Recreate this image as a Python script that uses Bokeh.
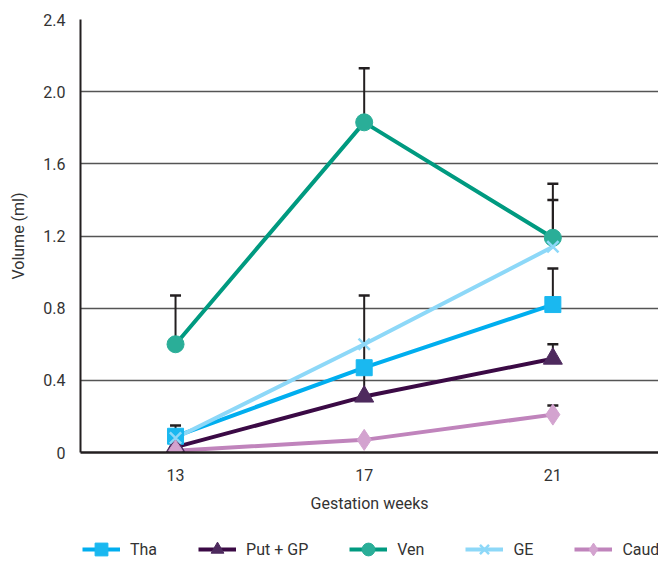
from bokeh.plotting import figure
from bokeh.layouts import column
from bokeh.models import Legend, LegendItem, Whisker, ColumnDataSource, TeeHead, FixedTicker, Range1d
from bokeh.embed import file_html
from bokeh.resources import INLINE

weeks = [13, 17, 21]
tha = [0.09, 0.47, 0.82]
put_gp = [0.03, 0.31, 0.52]
ven = [0.60, 1.83, 1.19]
ge = [0.08, 0.60, 1.14]
caud = [0.01, 0.07, 0.21]

# upper error bar ends (None = no bar)
tha_up = [0.15, None, 1.02]
put_up = [None, 0.87, 0.60]
ven_up = [0.87, 2.13, 1.49]
ge_up = [None, None, 1.40]
caud_up = [None, None, 0.26]

y_ticks = [0, 0.4, 0.8, 1.2, 1.6, 2.0, 2.4]
y_tick_labels = ["0", "0.4", "0.8", "1.2", "1.6", "2.0", "2.4"]

FONT = "Roboto"

p = figure(width=658, height=529, output_backend="svg", toolbar_location=None,
           x_range=Range1d(10.985, 23.24), y_range=Range1d(0, 2.4),
           min_border_left=80, min_border_top=19, min_border_right=0,
           min_border_bottom=77)
p.outline_line_color = None
p.background_fill_color = "white"

# axes
p.xaxis.ticker = FixedTicker(ticks=weeks)
p.yaxis.ticker = FixedTicker(ticks=y_ticks)
p.yaxis.major_label_overrides = {t: l for t, l in zip(y_ticks, y_tick_labels)}
for ax in (p.xaxis, p.yaxis):
    ax.major_tick_line_color = None
    ax.minor_tick_line_color = None
    ax.major_label_text_font = FONT
    ax.major_label_text_font_size = "16px"
    ax.major_label_text_color = "#333333"
    ax.axis_label_text_font = FONT
    ax.axis_label_text_font_size = "16px"
    ax.axis_label_text_font_style = "normal"
    ax.axis_label_text_color = "#333333"
    ax.axis_line_color = "#231f20"
p.xaxis.axis_line_width = 2.5
p.yaxis.axis_line_width = 2
p.xaxis.axis_label = "Gestation weeks"
p.yaxis.axis_label = "Volume (ml)"
p.xaxis.major_label_standoff = 10
p.xaxis.axis_label_standoff = 10
p.yaxis.major_label_standoff = 9
p.yaxis.axis_label_standoff = 12

p.xgrid.grid_line_color = None
p.ygrid.grid_line_color = "#555555"
p.ygrid.grid_line_width = 1.5

series = [
    ("Tha", tha, tha_up, "#00aeef", "#1ab8f0", "square", 16),
    ("Put + GP", put_gp, put_up, "#3b0a45", "#4e2a5e", "triangle", 19),
    ("Ven", ven, ven_up, "#009a80", "#2aae98", "circle", 17),
    ("GE", ge, ge_up, "#8dd8f8", "#8dd8f8", "x", 16),
    ("Caud", caud, caud_up, "#c084bc", "#d3a3cf", "diamond", 21),
]

# error bars
for name, vals, ups, lc, mc, mk, sz in series:
    xs = [w for w, u in zip(weeks, ups) if u is not None]
    lo = [v for v, u in zip(vals, ups) if u is not None]
    hi = [u for u in ups if u is not None]
    if xs:
        src = ColumnDataSource(dict(x=xs, lo=lo, hi=hi))
        wk = Whisker(source=src, base="x", lower="lo", upper="hi",
                     line_color="#231f20", line_width=2,
                     upper_head=TeeHead(size=11, line_color="#231f20", line_width=2.5),
                     lower_head=None)
        p.add_layout(wk)

for name, vals, ups, lc, mc, mk, sz in series:
    p.line(weeks, vals, line_color=lc, line_width=4)

for (name, vals, ups, lc, mc, mk, sz) in series:
    if mk == "x":
        p.scatter(weeks, vals, marker="x", size=sz, line_color=mc, line_width=2.5)
    else:
        p.scatter(weeks, vals, marker=mk, size=sz, fill_color=mc, line_color=mc)

# legend strip: a second small figure whose (off-screen) renderers feed the legend
p2 = figure(width=658, height=32, output_backend="svg", toolbar_location=None,
            x_range=Range1d(0, 1), y_range=Range1d(0, 1),
            x_axis_location=None, y_axis_location=None,
            min_border_left=0, min_border_right=0, min_border_top=0, min_border_bottom=0)
p2.outline_line_color = None
p2.xgrid.grid_line_color = None
p2.ygrid.grid_line_color = None

items = []
for (name, vals, ups, lc, mc, mk, sz) in series:
    lr = p2.line(weeks, vals, line_color=lc, line_width=4)
    if mk == "x":
        sr = p2.scatter(weeks, vals, marker="x", size=sz, line_color=mc, line_width=2.5)
    else:
        sr = p2.scatter(weeks, vals, marker=mk, size=sz, fill_color=mc, line_color=mc)
    items.append(LegendItem(label=name, renderers=[lr, sr]))

legend = Legend(items=items, orientation="horizontal", location=(2, -4),
                label_text_font=FONT, label_text_font_size="16px",
                label_text_color="#333333", glyph_width=38, glyph_height=32,
                label_standoff=10, spacing=41, border_line_color=None,
                background_fill_alpha=0, padding=0, margin=0)
p2.add_layout(legend)

open("out.html", "w").write(file_html(column(p, p2), INLINE))
